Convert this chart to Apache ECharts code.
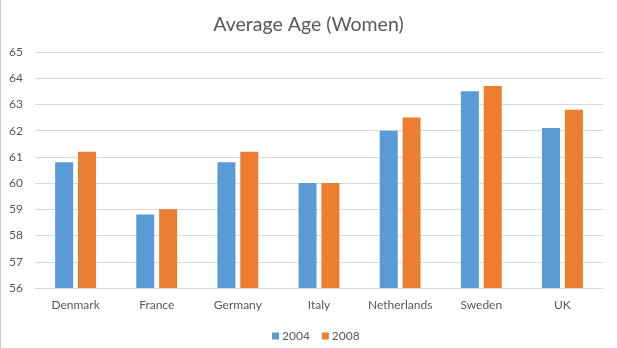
<!DOCTYPE html>
<html>
<head>
<meta charset="utf-8">
<style>
  html, body { margin: 0; padding: 0; background: #ffffff; }
  #chart { width: 617px; height: 348px; }
</style>
<script src="https://cdn.jsdelivr.net/npm/echarts@6/dist/echarts.min.js"></script>
</head>
<body>
<div id="chart"></div>
<script>
const categories = ['Denmark', 'France', 'Germany', 'Italy', 'Netherlands', 'Sweden', 'UK'];
const series2004 = [60.8, 58.8, 60.8, 60.0, 62.0, 63.5, 62.1];
const series2008 = [61.2, 59.0, 61.2, 60.0, 62.5, 63.7, 62.8];
const seriesNames = ['2004', '2008'];
const titleText = 'Average Age (Women)';

const FONT = 'Lato';
const TEXT = '#595959';

const chart = echarts.init(document.getElementById('chart'), null, { renderer: 'canvas' });
chart.setOption({
  backgroundColor: '#ffffff',
  animation: false,
  title: {
    text: titleText,
    left: 'center',
    top: 10,
    textStyle: { fontFamily: FONT, fontSize: 19.5, fontWeight: 'normal', color: TEXT }
  },
  legend: {
    data: seriesNames,
    bottom: 1,
    left: 267,
    icon: 'rect',
    itemWidth: 7,
    itemHeight: 7,
    itemGap: 12,
    textStyle: { fontFamily: FONT, fontSize: 12, color: TEXT, padding: [0, 0, 0, -2] }
  },
  grid: { left: 35, right: 14, top: 52, bottom: 60, containLabel: false },
  xAxis: {
    type: 'category',
    data: categories,
    axisLine: { show: true, lineStyle: { color: '#D9D9D9', width: 1 } },
    axisTick: { show: false },
    axisLabel: { interval: 0, fontFamily: FONT, fontSize: 12, color: TEXT, margin: 11 }
  },
  yAxis: {
    type: 'value',
    min: 56,
    max: 65,
    interval: 1,
    axisLine: { show: false },
    axisTick: { show: false },
    axisLabel: { fontFamily: FONT, fontSize: 12, color: TEXT, margin: 12 },
    splitLine: { lineStyle: { color: '#D9D9D9', width: 1 } }
  },
  series: [
    {
      name: seriesNames[0],
      type: 'bar',
      data: series2004,
      barWidth: 18,
      barGap: '27%',
      itemStyle: { color: '#5B9BD5' }
    },
    {
      name: seriesNames[1],
      type: 'bar',
      data: series2008,
      barWidth: 18,
      itemStyle: { color: '#ED7D31' }
    }
  ],
  graphic: [
    {
      type: 'line',
      shape: { x1: 0.5, y1: 0, x2: 0.5, y2: 348 },
      style: { stroke: '#D0D0D0', lineWidth: 1 }
    }
  ]
});
</script>
</body>
</html>
